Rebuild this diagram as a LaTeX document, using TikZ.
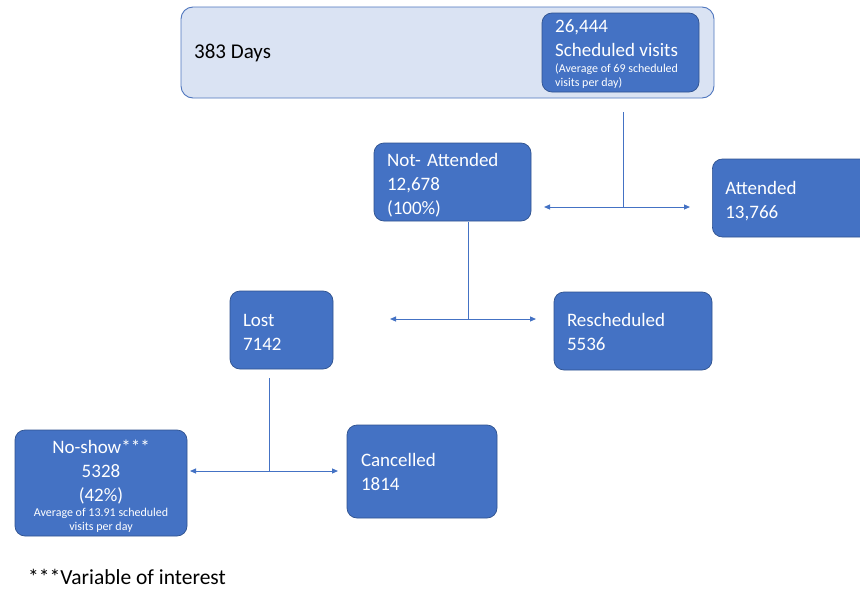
\documentclass[tikz,border=0pt]{standalone}
\usepackage{fontspec}
\setmainfont{Carlito}
\usetikzlibrary{arrows.meta}
\definecolor{boxblue}{HTML}{4472C4}
\definecolor{boxedge}{HTML}{2F528F}
\definecolor{outerfill}{HTML}{DAE3F3}
\definecolor{outeredge}{HTML}{4F76BE}
\definecolor{lineblue}{HTML}{4472C4}
\begin{document}
\begin{tikzpicture}[x=1pt,y=-1pt,
  bluebox/.style={draw=boxedge, line width=0.7pt, fill=boxblue, rounded corners=10pt,
    text=white, align=left, inner sep=0pt, font=\fontsize{19}{24}\selectfont},
  bigtext/.style={text=white, inner sep=0pt, font=\fontsize{19}{24}\selectfont},
  smalltext/.style={text=white, inner sep=0pt, font=\fontsize{12}{14}\selectfont},
  conn/.style={draw=lineblue, line width=1pt},
  biarrow/.style={conn, {Triangle[length=6pt,width=5pt]}-{Triangle[length=6pt,width=5pt]}}
]
\clip (0,0) rectangle (860,589);
\fill[white] (0,0) rectangle (860,589);

% top container
\node[draw=outeredge, line width=0.9pt, fill=outerfill, rounded corners=12pt,
  minimum width=533, minimum height=91, inner sep=0pt] (outer) at (447.5,52.5) {};
\node[anchor=west, inner sep=0pt, font=\fontsize{21}{25}\selectfont] (days) at (194,53) {383 Days};
\node[bluebox, minimum width=157, minimum height=79] (sched) at (620.5,52.5) {};
\node[bigtext, align=left, anchor=north west] (schedtop) at (555,19) {26,444\\Scheduled visits};
\node[smalltext, align=left, anchor=north west] (schedsmall) at (555,63.5) {(Average of 69 scheduled\\visits per day)};

% second level
\node[bluebox, minimum width=157, minimum height=78, text width=131] (notatt) at (452.5,182)
  {\rule{0pt}{20pt}Not- Attended\\12,678\\(100\%)};
\node[bluebox, minimum width=170, minimum height=78, text width=144, anchor=west] (att) at (712,198)
  {\rule{0pt}{19pt}Attended\\13,766};

% third level
\node[bluebox, minimum width=103, minimum height=78, text width=77] (lost) at (281.5,330)
  {\rule{0pt}{16pt}Lost\\7142};
\node[bluebox, minimum width=158, minimum height=78, text width=132] (resched) at (633,331)
  {\rule{0pt}{16pt}Rescheduled\\5536};

% fourth level
\node[bluebox, minimum width=172, minimum height=106] (noshow) at (101,483) {};
\node[bigtext, align=center, anchor=north] (noshowtop) at (101,440) {No-show***\\5328\\(42\%)};
\node[smalltext, align=center, anchor=north] (noshowsmall) at (101,508)
  {Average of 13.91 scheduled\\visits per day};
\node[bluebox, minimum width=150, minimum height=93, text width=122] (canc) at (422,471.5)
  {Cancelled\\1814};

% footnote
\node[anchor=west, inner sep=0pt, font=\fontsize{21.5}{25}\selectfont] (note) at (28,577) {***Variable of interest};

% connectors
\coordinate (s1) at (623,112);
\coordinate (j1) at (623,207);
\coordinate (l1) at (544,207);
\coordinate (r1) at (690,207);
\draw[conn] (s1) -- (j1);
\draw[biarrow] (l1) -- (r1);

\coordinate (s2) at (468,222);
\coordinate (j2) at (468,319);
\coordinate (l2) at (390,319);
\coordinate (r2) at (536,319);
\draw[conn] (s2) -- (j2);
\draw[biarrow] (l2) -- (r2);

\coordinate (s3) at (269,378);
\coordinate (j3) at (269,471);
\coordinate (l3) at (190,471);
\coordinate (r3) at (338,471);
\draw[conn] (s3) -- (j3);
\draw[biarrow] (l3) -- (r3);
\end{tikzpicture}
\end{document}
